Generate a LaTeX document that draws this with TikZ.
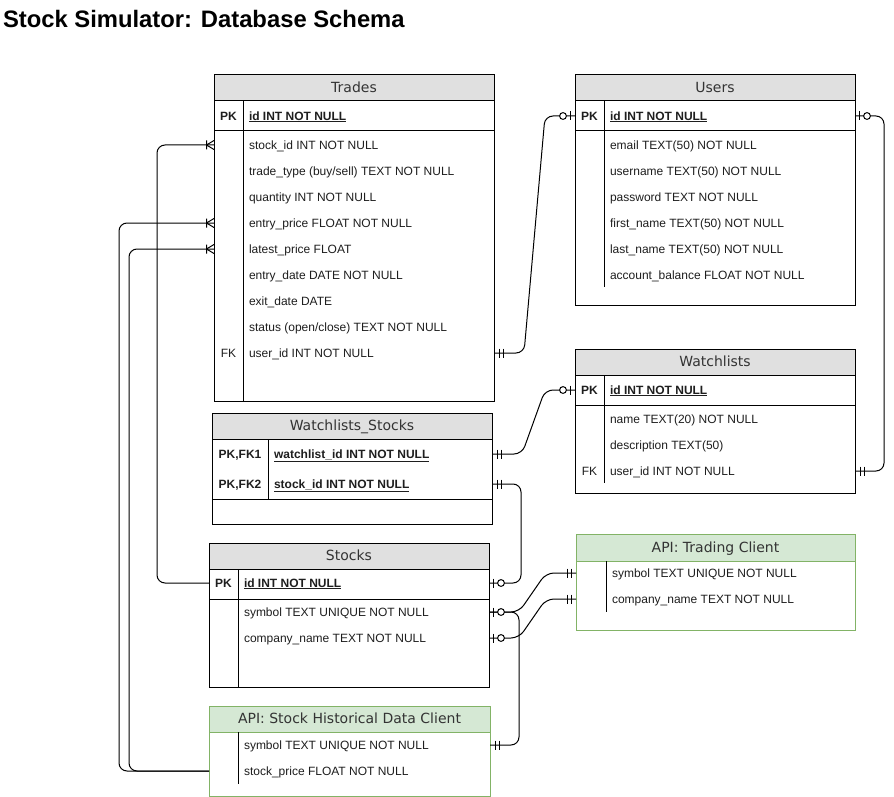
\documentclass[tikz,border=0pt]{standalone}
\usepackage{fontspec}
\setmainfont{Liberation Sans}
\newfontfamily\hdrfont{DejaVu Sans}
\usetikzlibrary{calc}
\definecolor{hdrgray}{HTML}{E0E0E0}
\definecolor{apifill}{HTML}{D5E8D4}
\definecolor{apiline}{HTML}{82B366}
\definecolor{txt}{HTML}{1E1E1E}
\definecolor{hdrtxt}{HTML}{333333}
\begin{document}
\begin{tikzpicture}[x=1pt,y=-1pt,
  every node/.style={inner sep=0pt, outer sep=0pt},
  hdrbox/.style={draw=black, fill=hdrgray, line width=1pt, anchor=north west,
    font=\hdrfont\fontsize{14}{16}\selectfont, text=hdrtxt, text height=11.2pt, text depth=1.6pt},
  bodybox/.style={draw=black, fill=white, line width=1pt, anchor=north west},
  apihdr/.style={hdrbox, draw=apiline, fill=apifill},
  apibody/.style={bodybox, draw=apiline},
  fld/.style={anchor=west, font=\fontsize{12}{14}\selectfont, text=txt, text height=10.1pt, text depth=2pt},
  keyfld/.style={fld, font=\fontsize{12}{14}\selectfont\bfseries},
  tag/.style={anchor=center, font=\fontsize{12}{14}\selectfont, text=txt, text height=10.1pt, text depth=2pt},
  keytag/.style={tag, font=\fontsize{12}{14}\selectfont\bfseries},
  sep/.style={line width=1pt},
  conn/.style={line width=1pt, rounded corners=8pt},
  mk/.style={line width=1pt},
  mandone/.pic={\draw[mk] (5,-4.5)--(5,4.5) (9,-4.5)--(9,4.5);},
  zeroone/.pic={\draw[mk] (4.5,-4.5)--(4.5,4.5); \draw[mk, fill=white] (12,0) circle (3.4pt);},
  onemany/.pic={\draw[mk] (7.5,-4.5)--(7.5,4.5) (7.5,0)--(0,-4.5) (7.5,0)--(0,4.5);}
]
\useasboundingbox (0,0) rectangle (894,797);

% Title
\node[anchor=base west, font=\fontsize{23.8}{28}\selectfont\bfseries] (title) at (3,28) {Stock Simulator: Database Schema};

% ---------- Trades ----------
\node[bodybox, minimum width=280pt, minimum height=300pt] (trades) at (214,101) {};
\node[hdrbox, minimum width=280pt, minimum height=26pt] (trades-h) at (214,75) {Trades};
\draw[sep] (214,131) -- (494,131) (243,101) -- (243,401);
\node[keytag] (tr-pk) at (228.5,116) {PK};
\node[keyfld] (tr-id) at (249,116) {\underline{id INT NOT NULL}};
\node[fld] (tr-stock) at (249,145) {stock\_id INT NOT NULL};
\node[fld] (tr-type) at (249,171) {trade\_type (buy/sell) TEXT NOT NULL};
\node[fld] (tr-qty) at (249,197) {quantity INT NOT NULL};
\node[fld] (tr-entry) at (249,223) {entry\_price FLOAT NOT NULL};
\node[fld] (tr-latest) at (249,249) {latest\_price FLOAT};
\node[fld] (tr-edate) at (249,275) {entry\_date DATE NOT NULL};
\node[fld] (tr-xdate) at (249,301) {exit\_date DATE};
\node[fld] (tr-status) at (249,327) {status (open/close) TEXT NOT NULL};
\node[tag] (tr-fk) at (228.5,353) {FK};
\node[fld] (tr-user) at (249,353) {user\_id INT NOT NULL};

% ---------- Users ----------
\node[bodybox, minimum width=280pt, minimum height=204pt] (users) at (575,101) {};
\node[hdrbox, minimum width=280pt, minimum height=26pt] (users-h) at (575,75) {Users};
\draw[sep] (575,131) -- (855,131) (604,101) -- (604,287);
\node[keytag] (us-pk) at (589.5,116) {PK};
\node[keyfld] (us-id) at (610,116) {\underline{id INT NOT NULL}};
\node[fld] (us-email) at (610,145) {email TEXT(50) NOT NULL};
\node[fld] (us-uname) at (610,171) {username TEXT(50) NOT NULL};
\node[fld] (us-pw) at (610,197) {password TEXT NOT NULL};
\node[fld] (us-first) at (610,223) {first\_name TEXT(50) NOT NULL};
\node[fld] (us-last) at (610,249) {last\_name TEXT(50) NOT NULL};
\node[fld] (us-bal) at (610,275) {account\_balance FLOAT NOT NULL};

% ---------- Watchlists ----------
\node[bodybox, minimum width=280pt, minimum height=118pt] (watch) at (575,375) {};
\node[hdrbox, minimum width=280pt, minimum height=26pt] (watch-h) at (575,349) {Watchlists};
\draw[sep] (575,405) -- (855,405) (604,375) -- (604,483);
\node[keytag] (wa-pk) at (589.5,390) {PK};
\node[keyfld] (wa-id) at (610,390) {\underline{id INT NOT NULL}};
\node[fld] (wa-name) at (610,419) {name TEXT(20) NOT NULL};
\node[fld] (wa-desc) at (610,445) {description TEXT(50)};
\node[tag] (wa-fk) at (589.5,471) {FK};
\node[fld] (wa-user) at (610,471) {user\_id INT NOT NULL};

% ---------- Watchlists_Stocks ----------
\node[bodybox, minimum width=280pt, minimum height=85pt] (ws) at (212,439) {};
\node[hdrbox, minimum width=280pt, minimum height=26pt] (ws-h) at (212,413) {Watchlists\_Stocks};
\draw[sep] (212,499) -- (492,499) (268,439) -- (268,499);
\node[keytag] (ws-pk1) at (240,454) {PK,FK1};
\node[keyfld] (ws-wl) at (274,454) {\underline{watchlist\_id INT NOT NULL}};
\node[keytag] (ws-pk2) at (240,484) {PK,FK2};
\node[keyfld] (ws-stock) at (274,484) {\underline{stock\_id INT NOT NULL}};

% ---------- Stocks ----------
\node[bodybox, minimum width=280pt, minimum height=118pt] (stocks) at (209,569) {};
\node[hdrbox, minimum width=280pt, minimum height=26pt] (stocks-h) at (209,543) {Stocks};
\draw[sep] (209,599) -- (489,599) (238.5,569) -- (238.5,687);
\node[keytag] (st-pk) at (223.5,583) {PK};
\node[keyfld] (st-id) at (244,583) {\underline{id INT NOT NULL}};
\node[fld] (st-sym) at (244,612) {symbol TEXT UNIQUE NOT NULL};
\node[fld] (st-comp) at (244,638) {company\_name TEXT NOT NULL};

% ---------- API: Trading Client ----------
\node[apibody, minimum width=279pt, minimum height=69pt] (trading) at (576,561) {};
\node[apihdr, minimum width=279pt, minimum height=27pt] (trading-h) at (576,534) {API: Trading Client};
\draw[sep] (606,561) -- (606,612);
\node[fld] (tc-sym) at (612,573) {symbol TEXT UNIQUE NOT NULL};
\node[fld] (tc-comp) at (612,599) {company\_name TEXT NOT NULL};

% ---------- API: Stock Historical Data Client ----------
\node[apibody, minimum width=281pt, minimum height=64pt] (hist) at (209,732) {};
\node[apihdr, minimum width=281pt, minimum height=26pt] (hist-h) at (209,706) {API: Stock Historical Data Client};
\draw[sep] (238.5,732) -- (238.5,784);
\node[fld] (hi-sym) at (244,745) {symbol TEXT UNIQUE NOT NULL};
\node[fld] (hi-price) at (244,771) {stock\_price FLOAT NOT NULL};

% ---------- Connectors ----------
\draw[conn] (trades.west |- tr-stock) -- ++(-57,0) |- (stocks.west |- st-id);
\draw[conn] (trades.west |- tr-entry) -- ++(-95,0) |- (hist.west |- hi-price);
\draw[conn] (trades.west |- tr-latest) -- ++(-85,0) |- (hist.west |- hi-price);
\draw[conn] (trades.east |- tr-user) -- ++(30,0) -- ($(users.west |- us-id)+(-30,0)$) -- (users.west |- us-id);
\draw[conn] (users.east |- us-id) -- ++(29,0) |- (watch.east |- wa-user);
\draw[conn] (ws.east |- ws-wl) -- ++(30,0) -- ($(watch.west |- wa-id)+(-30,0)$) -- (watch.west |- wa-id);
\draw[conn] (ws.east |- ws-stock) -- ++(29,0) |- (stocks.east |- st-id);
\draw[conn] (stocks.east |- st-sym) -- ++(30,0) |- (hist.east |- hi-sym);
\draw[conn] (stocks.east |- st-sym) -- ++(30,0) -- ($(trading.west |- tc-sym)+(-30,0)$) -- (trading.west |- tc-sym);
\draw[conn] (stocks.east |- st-comp) -- ++(30,0) -- ($(trading.west |- tc-comp)+(-30,0)$) -- (trading.west |- tc-comp);

% ---------- Markers ----------
\path (trades.west |- tr-stock) pic[xscale=-1] {onemany};
\path (trades.west |- tr-entry) pic[xscale=-1] {onemany};
\path (trades.west |- tr-latest) pic[xscale=-1] {onemany};
\path (trades.east |- tr-user) pic {mandone};
\path (users.west |- us-id) pic[xscale=-1] {zeroone};
\path (users.east |- us-id) pic {zeroone};
\path (watch.east |- wa-user) pic {mandone};
\path (watch.west |- wa-id) pic[xscale=-1] {zeroone};
\path (ws.east |- ws-wl) pic {mandone};
\path (ws.east |- ws-stock) pic {mandone};
\path (stocks.east |- st-id) pic {zeroone};
\path (stocks.east |- st-sym) pic {zeroone};
\path (stocks.east |- st-comp) pic {zeroone};
\path (trading.west |- tc-sym) pic[xscale=-1] {mandone};
\path (trading.west |- tc-comp) pic[xscale=-1] {mandone};
\path (hist.east |- hi-sym) pic {mandone};
\end{tikzpicture}
\end{document}
